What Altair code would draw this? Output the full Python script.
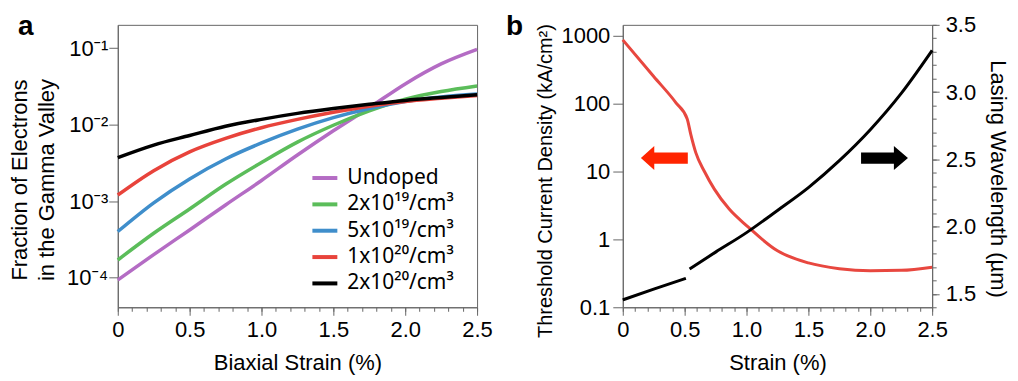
import altair as alt
import pandas as pd

FONT = "Liberation Sans, Noto Sans"
LEG_FONT = "Noto Sans"

# ---------------- Panel a data ----------------
strain_a = [0, 0.25, 0.5, 0.75, 1.0, 1.25, 1.5, 1.75, 2.0, 2.25, 2.5]
frac_undoped = [9.3e-5, 2.0e-4, 4.2e-4, 8.9e-4, 1.86e-3, 4.0e-3, 8.3e-3, 1.66e-2, 3.4e-2, 6.2e-2, 9.6e-2]
frac_2e19 = [1.7e-4, 3.8e-4, 7.9e-4, 1.66e-3, 3.2e-3, 5.9e-3, 9.8e-3, 1.51e-2, 2.14e-2, 2.7e-2, 3.2e-2]
frac_5e19 = [4.0e-4, 9.5e-4, 1.95e-3, 3.55e-3, 5.75e-3, 8.7e-3, 1.23e-2, 1.62e-2, 2.0e-2, 2.3e-2, 2.5e-2]
frac_1e20 = [1.2e-3, 2.5e-3, 4.4e-3, 6.6e-3, 9.1e-3, 1.17e-2, 1.45e-2, 1.74e-2, 2.0e-2, 2.2e-2, 2.4e-2]
frac_2e20 = [3.7e-3, 5.4e-3, 7.2e-3, 9.5e-3, 1.17e-2, 1.40e-2, 1.62e-2, 1.84e-2, 2.07e-2, 2.26e-2, 2.45e-2]

series_names = ["Undoped", "2x10¹⁹/cm³", "5x10¹⁹/cm³", "1x10²⁰/cm³", "2x10²⁰/cm³"]
series_colors = ["#b46cc4", "#5bbd5a", "#3f8ecb", "#e8433b", "#000000"]

x_major = [0, 0.5, 1.0, 1.5, 2.0, 2.5]
x_minor = [round(i * 0.1, 1) for i in range(26)]
ya_ticks = [1e-4, 1e-3, 1e-2, 1e-1]
ya_labels = ["10⁻⁴", "10⁻³", "10⁻²", "10⁻¹"]

# ---------------- Panel b data ----------------
strain_thr = [0, 0.25, 0.43, 0.52, 0.55, 0.59, 0.66, 0.74, 0.86, 1.0, 1.25, 1.5, 1.75, 2.0, 2.25, 2.5]
threshold = [870, 251, 103, 60, 35, 19, 10, 5.5, 2.8, 1.6, 0.68, 0.45, 0.37, 0.345, 0.35, 0.39]

strain_wl1 = [0, 0.25, 0.51]
wl1 = [1.455, 1.535, 1.615]
strain_wl2 = [0.54, 0.75, 1.0, 1.25, 1.5, 1.75, 2.0, 2.25, 2.5]
wl2 = [1.685, 1.81, 1.955, 2.12, 2.29, 2.49, 2.72, 2.99, 3.31]

yb_ticks = [0.1, 1, 10, 100, 1000]
yb_labels = ["0.1", "1", "10", "100", "1000"]
wl_major = [1.5, 2.0, 2.5, 3.0, 3.5]
wl_minor = [round(1.4 + i * 0.1, 1) for i in range(22)]

arrow_left_pos = {"strain": [0.336], "thr": [15.8]}
arrow_right_pos = {"strain": [2.115], "thr": [15.8]}

# ---------------- helpers ----------------
def label_expr(vals, labels):
    expr = "''"
    for v, l in zip(vals, labels):
        expr = f"(abs(datum.value - {v}) < {v} * 0.01) ? '{l}' : ({expr})"
    return expr

x_label_expr = "datum.value == 0 ? '0' : format(datum.value, '.1f')"
AX = "#666666"

# ---------------- Panel a ----------------
rows = []
for name, vals in zip(series_names, [frac_undoped, frac_2e19, frac_5e19, frac_1e20, frac_2e20]):
    for s, v in zip(strain_a, vals):
        rows.append({"strain": s, "frac": v, "series": name})
df_a = pd.DataFrame(rows)

xa_scale = alt.Scale(domain=[0, 2.5], nice=False, zero=False)

lines_a = alt.Chart(df_a).mark_line(strokeWidth=3.5, interpolate="monotone").encode(
    x=alt.X("strain:Q", scale=xa_scale,
            axis=alt.Axis(values=x_major, labelExpr=x_label_expr, tickSize=8, labelPadding=4,
                          labelFlush=False, title="Biaxial Strain (%)", titlePadding=12,
                          orient="bottom")),
    y=alt.Y("frac:Q", scale=alt.Scale(type="log", domain=[4.1e-5, 0.201], nice=False),
            axis=alt.Axis(values=ya_ticks, labelExpr=label_expr(ya_ticks, ya_labels), tickSize=9,
                          labelPadding=1, minExtent=57, maxExtent=57, titlePadding=2,
                          title=["Fraction of Electrons", "in the Gamma Valley"], titleLineHeight=27,
                          titleY=155)),
    color=alt.Color("series:N", sort=series_names,
                    scale=alt.Scale(domain=series_names, range=series_colors),
                    legend=alt.Legend(title=None, orient="none", legendX=193, legendY=139,
                                      symbolType="stroke", symbolSize=625, symbolStrokeWidth=4,
                                      labelFontSize=21, labelOffset=8, rowPadding=1.4,
                                      padding=0, labelFont=LEG_FONT, labelColor="black")),
    order=alt.Order("strain:Q"),
)

minor_a = alt.Chart(df_a).mark_point(opacity=0).encode(
    x=alt.X("strain:Q", scale=xa_scale,
            axis=alt.Axis(values=x_minor, labels=False, tickSize=4, domain=False, title=None,
                          orient="bottom", grid=False)),
)

panel_a = alt.layer(lines_a, minor_a).resolve_axis(x="independent").properties(
    width=360, height=283,
    title=alt.TitleParams("a", anchor="start", frame="group", fontSize=28, fontWeight="bold",
                          font=FONT, dx=-100, dy=42.3, baseline="alphabetic", color="black"),
)

# ---------------- Panel b ----------------
df_thr = pd.DataFrame({"strain": strain_thr, "thr": threshold})
df_wl = pd.DataFrame({
    "strain": strain_wl1 + strain_wl2,
    "wl": wl1 + wl2,
    "seg": ["s1"] * len(strain_wl1) + ["s2"] * len(strain_wl2),
})

xb_scale = alt.Scale(domain=[0, 2.5], nice=False, zero=False)
thr_scale = alt.Scale(type="log", domain=[0.1, 1450], nice=False)
wl_scale = alt.Scale(domain=[1.4, 3.5], nice=False, zero=False)

red_b = alt.Chart(df_thr).mark_line(color="#e8473f", strokeWidth=3, interpolate="monotone").encode(
    x=alt.X("strain:Q", scale=xb_scale,
            axis=alt.Axis(values=x_major, labelExpr=x_label_expr, tickSize=8, labelPadding=4,
                          labelFlush=False, title="Strain (%)", titlePadding=12, orient="bottom")),
    y=alt.Y("thr:Q", scale=thr_scale,
            axis=alt.Axis(values=yb_ticks, labelExpr=label_expr(yb_ticks, yb_labels), tickSize=10,
                          labelPadding=3, minExtent=62, maxExtent=62, titlePadding=5,
                          title="Threshold Current Density (kA/cm²)", titleFontSize=20,
                          titleY=156, orient="left")),
)

black_b = alt.Chart(df_wl).mark_line(color="black", strokeWidth=3, interpolate="monotone").encode(
    x=alt.X("strain:Q", scale=xb_scale, axis=None),
    y=alt.Y("wl:Q", scale=wl_scale,
            axis=alt.Axis(values=wl_major, format=".1f", tickSize=7, labelPadding=6,
                          title="Lasing Wavelength (µm)", titlePadding=10, titleY=154,
                          orient="right")),
    detail="seg:N",
)

minor_b = alt.Chart(df_wl).mark_point(opacity=0).encode(
    x=alt.X("strain:Q", scale=xb_scale,
            axis=alt.Axis(values=x_minor, labels=False, tickSize=4, domain=False, title=None,
                          orient="bottom", grid=False)),
    y=alt.Y("wl:Q", scale=wl_scale,
            axis=alt.Axis(values=wl_minor, labels=False, tickSize=4, domain=False, title=None,
                          orient="right", grid=False)),
)

LEFT_ARROW = "M -1 0 L -0.43 -0.51 L -0.43 -0.24 L 1 -0.24 L 1 0.24 L -0.43 0.24 L -0.43 0.51 Z"
RIGHT_ARROW = "M 1 0 L 0.4 -0.51 L 0.4 -0.24 L -1 -0.24 L -1 0.24 L 0.4 0.24 L 0.4 0.51 Z"

arrow_l = alt.Chart(pd.DataFrame(arrow_left_pos)).mark_point(
    shape=LEFT_ARROW, filled=True, size=2209, color="#ff2400", opacity=1, strokeWidth=0
).encode(
    x=alt.X("strain:Q", scale=xb_scale, axis=None),
    y=alt.Y("thr:Q", scale=thr_scale, axis=None),
)
arrow_r = alt.Chart(pd.DataFrame(arrow_right_pos)).mark_point(
    shape=RIGHT_ARROW, filled=True, size=2209, color="#000000", opacity=1, strokeWidth=0
).encode(
    x=alt.X("strain:Q", scale=xb_scale, axis=None),
    y=alt.Y("thr:Q", scale=thr_scale, axis=None),
)

panel_b = alt.layer(red_b, black_b, minor_b, arrow_l, arrow_r).resolve_scale(
    y="independent"
).resolve_axis(x="independent", y="independent").properties(
    width=310, height=283,
    title=alt.TitleParams("b", anchor="start", frame="group", fontSize=28, fontWeight="bold",
                          font=FONT, dx=-117, dy=52.8, baseline="alphabetic", color="black"),
)

chart = alt.hconcat(panel_a, panel_b, spacing=12).properties(
    padding={"left": 0, "top": 3.5, "right": 0, "bottom": 0}
).configure_view(
    stroke=AX, strokeWidth=1
).configure_axis(
    labelFont=FONT, titleFont=FONT, labelFontSize=22, titleFontSize=22,
    labelColor="black", titleColor="black", titleFontWeight="normal",
    domainColor=AX, tickColor=AX, grid=False, domainWidth=1, tickWidth=1,
).configure_legend(
    labelFont=LEG_FONT
)

chart.save("out.html", embed_options={"renderer": "svg", "actions": False})
